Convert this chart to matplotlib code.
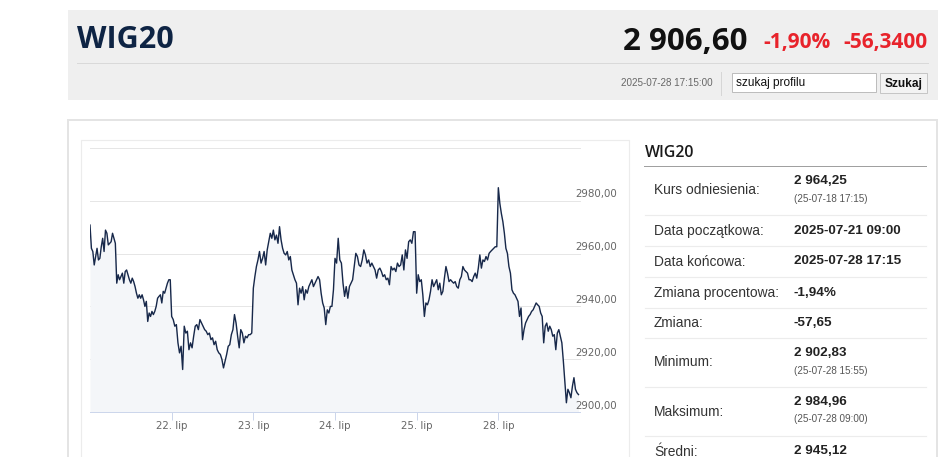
import numpy as np
import matplotlib
matplotlib.use("Agg")
import matplotlib.pyplot as plt
from matplotlib.patches import Rectangle
from matplotlib.transforms import blended_transform_factory

# ---------------- data ----------------
day_labels = ["21. lip", "22. lip", "23. lip", "24. lip", "25. lip", "28. lip"]

day21 = [2970.8, 2962.0, 2960.8, 2955.7, 2958.9, 2962.0, 2957.6, 2958.2, 2962.6, 2965.8,
         2960.8, 2968.9, 2967.7, 2963.3, 2963.9, 2964.5, 2967.7, 2965.8, 2963.9, 2948.8,
         2952.0, 2950.1, 2951.3, 2952.6, 2948.8, 2953.2, 2953.8, 2952.0, 2950.1, 2948.8,
         2950.7, 2949.4, 2947.5, 2945.0, 2943.1, 2944.4, 2943.1, 2944.4, 2942.5, 2940.0,
         2941.9, 2934.3, 2937.5, 2936.2, 2938.1, 2936.9, 2938.1, 2940.0, 2943.1, 2943.8,
         2944.4, 2941.3, 2945.7, 2945.0, 2946.9, 2948.8, 2950.1, 2950.1]
day22 = [2936.2, 2935.0, 2932.5, 2933.1, 2926.2, 2922.4, 2924.9, 2916.1, 2932.5, 2929.9,
         2930.6, 2923.6, 2926.2, 2924.3, 2928.7, 2932.5, 2933.1, 2931.2, 2935.0, 2933.7,
         2932.5, 2931.2, 2930.6, 2929.3, 2929.9, 2927.4, 2928.1, 2925.5, 2926.8, 2923.6,
         2922.4, 2921.8, 2919.9, 2916.7, 2919.2, 2921.8, 2924.9, 2925.5, 2929.3, 2931.2,
         2936.9, 2933.7, 2928.7, 2924.3, 2931.2, 2929.9, 2926.2, 2928.7, 2928.1, 2929.3,
         2929.3, 2929.9]
day23 = [2946.9, 2951.3, 2955.1, 2957.6, 2960.8, 2956.4, 2958.2, 2960.8, 2955.7, 2961.4,
         2964.5, 2967.7, 2965.8, 2968.9, 2965.2, 2967.0, 2963.9, 2970.2, 2965.2, 2962.0,
         2960.1, 2959.5, 2960.8, 2957.6, 2958.9, 2953.8, 2952.0, 2950.1, 2948.8, 2940.6,
         2946.9, 2945.0, 2947.5, 2942.5, 2946.3, 2945.0, 2947.5, 2948.8, 2950.1, 2947.5,
         2948.8, 2950.1, 2951.3, 2950.1, 2945.0, 2941.3, 2939.4, 2933.1, 2938.7, 2937.5,
         2940.0, 2940.0, 2946.3]
day24 = [2958.2, 2956.4, 2965.8, 2957.6, 2956.4, 2948.8, 2943.8, 2947.5, 2943.1, 2947.5,
         2948.8, 2950.1, 2955.1, 2960.1, 2958.9, 2955.7, 2955.1, 2957.6, 2961.4, 2959.5,
         2956.4, 2957.6, 2955.1, 2956.4, 2955.1, 2953.8, 2950.7, 2953.8, 2954.5, 2953.2,
         2951.3, 2952.0, 2950.1, 2950.7, 2948.2, 2955.1, 2953.8, 2954.5, 2953.2, 2956.4,
         2955.1, 2955.7, 2959.5, 2953.8, 2961.4, 2958.2, 2964.5, 2965.2, 2963.9, 2968.3,
         2968.3]
day25 = [2945.0, 2952.0, 2949.4, 2950.1, 2944.4, 2936.2, 2941.3, 2940.6, 2942.5, 2945.7,
         2950.1, 2947.5, 2948.8, 2950.1, 2946.3, 2948.8, 2944.4, 2945.7, 2950.7, 2955.1,
         2952.6, 2949.4, 2950.1, 2949.4, 2948.8, 2949.4, 2947.5, 2946.9, 2950.1, 2951.3,
         2955.1, 2953.8, 2953.2, 2952.6, 2950.1, 2950.1, 2949.4, 2951.3, 2952.6, 2950.7,
         2954.5, 2959.5, 2954.5, 2957.6, 2957.0, 2958.9, 2957.6, 2960.1, 2960.8, 2961.4,
         2962.0, 2962.6, 2962.6]
day28 = [2984.96, 2979.0, 2975.2, 2972.1, 2967.7, 2962.0, 2960.1, 2955.1, 2952.6, 2946.3,
         2945.0, 2944.4, 2943.1, 2941.9, 2936.2, 2939.4, 2927.4, 2931.2, 2933.7, 2935.0,
         2936.2, 2936.9, 2938.1, 2938.7, 2940.0, 2941.3, 2940.6, 2940.0, 2937.5, 2936.2,
         2926.2, 2932.5, 2933.7, 2930.6, 2932.5, 2931.2, 2928.7, 2929.3, 2923.6, 2929.9,
         2931.2, 2928.7, 2926.2, 2919.2, 2911.1, 2903.5, 2908.6, 2907.3, 2905.4, 2909.8,
         2913.0, 2908.6, 2907.3, 2906.6]
days = [day21, day22, day23, day24, day25, day28]

y_ticks = [2900, 2920, 2940, 2960, 2980, 3000]
y_tick_labels = ["2900,00", "2920,00", "2940,00", "2960,00", "2980,00", ""]

header_name = "WIG20"
header_price = "2 906,60"
header_pct = "-1,90%"
header_chg = "-56,3400"
header_time = "2025-07-28 17:15:00"

row_labels = ["Kurs odniesienia:", "Data początkowa:", "Data końcowa:", "Zmiana procentowa:",
              "Zmiana:", "Minimum:", "Maksimum:", "Średni:"]
row_values = ["2 964,25", "2025-07-21 09:00", "2025-07-28 17:15", "-1,94%",
              "-57,65", "2 902,83", "2 984,96", "2 945,12"]
row_subs = ["(25-07-18 17:15)", "", "", "", "", "(25-07-28 15:55)", "(25-07-28 09:00)", ""]

# ---------------- figure ----------------
W, H = 948, 457
fig = plt.figure(figsize=(W / 100, H / 100), dpi=100)
fig.patch.set_facecolor("white")
bg = fig.add_axes([0, 0, 1, 1])
bg.set_xlim(0, W)
bg.set_ylim(H, 0)
bg.axis("off")


def pt(v):
    return v * 72 / 100


HEAD = ["Open Sans", "DejaVu Sans"]
BODY = ["Liberation Sans", "DejaVu Sans"]

# header box
bg.add_patch(Rectangle((68, 10), 870, 90, facecolor="#efefef", edgecolor="none"))
bg.plot([77, 928], [63, 63], color="#d9d9d9", lw=pt(1))
bg.text(77.5, 48, header_name, family=HEAD, weight="bold", fontsize=22, color="#0e2444",
        va="baseline", ha="left")
bg.text(748, 50, header_price, family=HEAD, weight="bold", fontsize=22.5, color="#111111",
        va="baseline", ha="right")
bg.text(763, 48, header_pct, family=HEAD, weight="bold", fontsize=15, color="#e8232b",
        va="baseline", ha="left")
bg.text(843, 48, header_chg, family=HEAD, weight="bold", fontsize=15, color="#e8232b",
        va="baseline", ha="left")
bg.text(621, 83.5, header_time, family=BODY, fontsize=7.15, color="#666666", va="center", ha="left")
bg.plot([721, 721], [72, 95], color="#d6d6d6", lw=pt(1))
bg.add_patch(Rectangle((732.5, 73), 143.5, 19, facecolor="white", edgecolor="#bdbdbd", lw=pt(1)))
bg.text(736, 83, "szukaj profilu", family=BODY, fontsize=8.6, color="#111111", va="center", ha="left")
bg.add_patch(Rectangle((880.5, 73), 46.5, 20, facecolor="#f3f3f3", edgecolor="#c6c6c6", lw=pt(1)))
bg.text(903.7, 83.5, "Szukaj", family=BODY, weight="bold", fontsize=8.6, color="#111111",
        va="center", ha="center")

# main panel
bg.add_patch(Rectangle((68.5, 120), 869, 360, facecolor="white", edgecolor="#e4e4e4", lw=pt(2)))
bg.add_patch(Rectangle((81, 139.5), 548, 340, facecolor="white", edgecolor="#ececec", lw=pt(1.2)))

# right info panel
bg.text(645, 157, header_name, family=HEAD, weight="semibold", fontsize=11.4, color="#1a1a1a",
        va="baseline", ha="left")
bg.plot([644, 926], [166, 166], color="#a0a0a0", lw=pt(1))
bounds = [166, 215, 246, 277, 308, 338, 387, 436, 467]
for i, (lab, val, sub) in enumerate(zip(row_labels, row_values, row_subs)):
    top, bot = bounds[i], bounds[i + 1]
    c = (top + bot) / 2
    bg.text(654, c, lab, family=BODY, fontsize=9.9, color="#333333", va="center", ha="left")
    if sub:
        bg.text(794, c - 9.5, val, family=BODY, weight="bold", fontsize=9.7, color="#222222",
                va="center", ha="left")
        bg.text(794, c + 8, sub, family=BODY, fontsize=7.1, color="#555555", va="center", ha="left")
    else:
        bg.text(794, c, val, family=BODY, weight="bold", fontsize=9.7, color="#222222",
                va="center", ha="left")
    if i > 0:
        bg.plot([645, 926], [top, top], color="#ececec", lw=pt(1.2))

# ---------------- chart ----------------
ax = fig.add_axes([90 / W, 1 - 412 / H, 490 / W, 264 / H])
ax.set_facecolor("none")
xs, ys = [], []
for d, vals in enumerate(days):
    n = len(vals)
    xs.extend(d + np.arange(n) / n)
    ys.extend(vals)
xs = np.array(xs)
ys = np.array(ys)

ax.fill_between(xs, ys, y_ticks[0], color="#f4f6f9", lw=0, zorder=1)
ax.plot(xs, ys, color="#17284a", lw=pt(1.4), zorder=3)

ax.set_xlim(0, len(days))
ax.set_ylim(y_ticks[0], y_ticks[-1])

for s in ["top", "left", "right"]:
    ax.spines[s].set_visible(False)
ax.spines["bottom"].set_color("#ccd6eb")
ax.spines["bottom"].set_linewidth(pt(1))
ax.spines["bottom"].set_zorder(4)

ax.set_yticks(y_ticks)
ax.tick_params(axis="y", left=False, labelleft=False)
ax.grid(axis="y", color="#e6e6e6", lw=pt(1))
for gl in ax.get_ygridlines():
    gl.set_clip_on(False)
ax.set_axisbelow(True)

tr = blended_transform_factory(ax.transAxes, ax.transData)
for v, lab in zip(y_ticks, y_tick_labels):
    if lab:
        ax.text(485 / 490, v + 0.5, lab, transform=tr, ha="left", va="bottom",
                fontsize=7.4, color="#666666", family=["DejaVu Sans"], clip_on=False)

ax.set_xticks(np.arange(1, len(days)), labels=day_labels[1:])
ax.tick_params(axis="x", direction="out", length=pt(8), width=pt(1), color="#ccd6eb",
               labelcolor="#666666", labelsize=7.4, pad=pt(1))

fig.savefig("out.png", dpi=100, facecolor="white")
